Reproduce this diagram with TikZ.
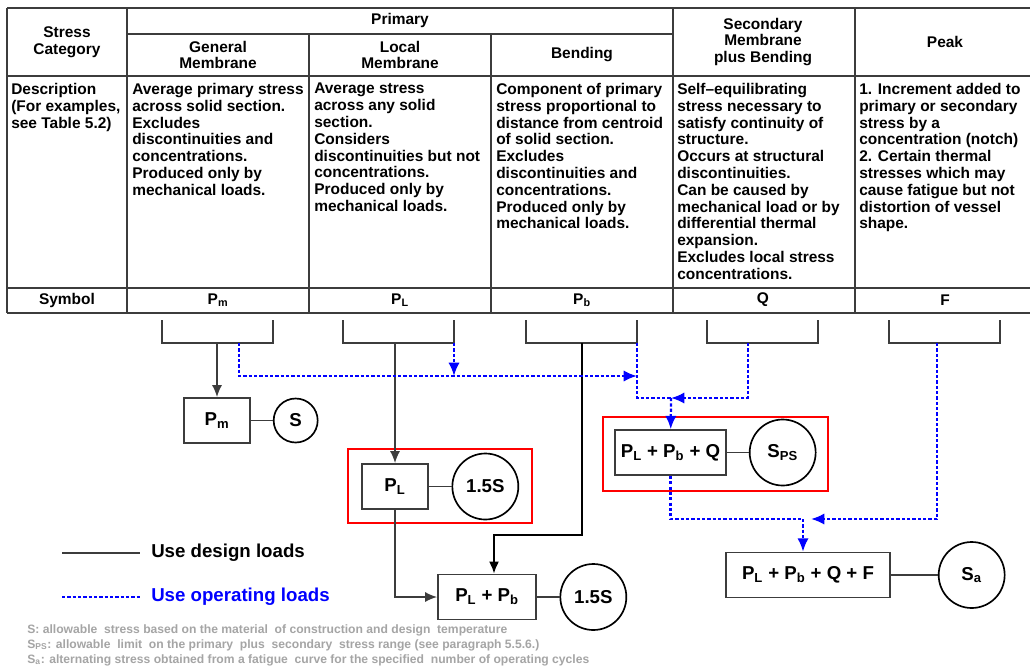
\documentclass[tikz,border=0pt]{standalone}
\usepackage{fontspec}
\setmainfont{Liberation Sans}
\usetikzlibrary{arrows.meta,positioning}

\definecolor{opblue}{RGB}{0,0,255}
\definecolor{gridgray}{RGB}{60,60,60}
\definecolor{notegray}{RGB}{165,165,165}

\begin{document}
\begin{tikzpicture}[x=0.75pt,y=-0.75pt,
  grid/.style={draw=gridgray, line width=1.25pt},
  tabtext/.style={font=\fontsize{11.6}{12.6}\selectfont\bfseries, inner sep=0pt},
  desc/.style={tabtext, anchor=north west, align=left},
  head/.style={tabtext, align=center},
  loadbox/.style={draw=gridgray, line width=1.25pt, minimum width=#1, minimum height=33.75pt, inner sep=0pt, font=\fontsize{14}{16}\selectfont\bfseries},
  limit/.style={circle, draw=black, line width=1.25pt, minimum size=#1, inner sep=0pt, font=\fontsize{14}{16}\selectfont\bfseries},
  design/.style={draw=gridgray, line width=1.25pt, -{Latex[length=9pt,width=7.5pt]}},
  operating/.style={draw=opblue, line width=1.7pt, dash pattern=on 2.4pt off 1.6pt, -{Latex[length=10pt,width=8.5pt]}},
  check/.style={draw=red, line width=1.6pt},
  legend/.style={anchor=west, inner xsep=8.25pt, font=\fontsize{14}{16}\selectfont\bfseries},
]
\path[use as bounding box, fill=white] (0,0) rectangle (1030,671);

% table
\draw[grid, line width=1.7pt] (7,8) -- (1030,8);
\draw[grid] (127,34) -- (673,34);
\draw[grid] (7,76) -- (1030,76);
\draw[grid] (7,288) -- (1030,288);
\draw[grid, line width=1.7pt] (7,313) -- (1030,313);
\foreach \x in {7,127,673,855} \draw[grid] (\x,8) -- (\x,313);
\foreach \x in {309,491} \draw[grid] (\x,34) -- (\x,313);

\node[head] (cat) at (67,42) {Stress\\Category};
\node[head] (prim) at (400,21) {Primary};
\node[head] (genm) at (218,55) {General\\Membrane};
\node[head] (locm) at (400,55) {Local\\Membrane};
\node[head] (bend) at (582,55) {Bending};
\node[head] (secm) at (763,42) {Secondary\\Membrane\\plus Bending};
\node[head] (peak) at (945,42) {Peak};

\node[desc] (dcat) at (11,83) {Description\\(For examples,\\see Table 5.2)};
\node[desc] (dgenm) at (132,83) {Average primary stress\\across solid section.\\Excludes\\discontinuities and\\concentrations.\\Produced only by\\mechanical loads.};
\node[desc] (dlocm) at (314,83) {Average stress\\across any solid\\section.\\Considers\\discontinuities but not\\concentrations.\\Produced only by\\mechanical loads.};
\node[desc] (dbend) at (496,83) {Component of primary\\stress proportional to\\distance from centroid\\of solid section.\\Excludes\\discontinuities and\\concentrations.\\Produced only by\\mechanical loads.};
\node[desc] (dsecm) at (677,83) {Self--equilibrating\\stress necessary to\\satisfy continuity of\\structure.\\Occurs at structural\\discontinuities.\\Can be caused by\\mechanical load or by\\differential thermal\\expansion.\\Excludes local stress\\concentrations.};
\node[desc] (dpeak) at (859,83) {1. Increment added to\\primary or secondary\\stress by a\\concentration (notch)\\2. Certain thermal\\stresses which may\\cause fatigue but not\\distortion of vessel\\shape.};

\node[tabtext] (sym) at (67,300) {Symbol};
\node[tabtext] (sgenm) at (218,300) {P\textsubscript{m}};
\node[tabtext] (slocm) at (400,300) {P\textsubscript{L}};
\node[tabtext] (sbend) at (582,300) {P\textsubscript{b}};
\node[tabtext] (ssecm) at (763,300) {Q};
\node[tabtext] (speak) at (945,300) {F};

% brackets under the symbols
\foreach \x in {162,343,526,707,889}
  \draw[grid] (\x,320) |- (\x+111,343) -- (\x+111,320);

\coordinate (genmD) at (217,343);
\coordinate (genmO) at (239,343);
\coordinate (locmD) at (395,343);
\coordinate (locmO) at (454,343);
\coordinate (bendD) at (582,343);
\coordinate (bendO) at (637,343);
\coordinate (secmO) at (748,343);
\coordinate (peakO) at (937,343);

% check boxes
\node[loadbox=49.5pt] (pm) at (217,420.5) {P\textsubscript{m}};
\node[limit=33pt, right=16.5pt of pm] (s) {S};
\node[loadbox=49.5pt] (pl) at (395,486.5) {P\textsubscript{L}};
\node[limit=49.5pt, right=17pt of pl] (pls) {1.5S};
\node[loadbox=73.5pt] (plpb) at (487,597) {P\textsubscript{L} + P\textsubscript{b}};
\node[limit=49.5pt, right=17pt of plpb] (plpbs) {1.5S};
\node[loadbox=83.25pt] (sps) at (670.5,452.5) {P\textsubscript{L} + P\textsubscript{b} + Q};
\node[limit=49.5pt, right=16.5pt of sps] (spss) {S\textsubscript{PS}};
\node[loadbox=123pt] (fin) at (808,575) {P\textsubscript{L} + P\textsubscript{b} + Q + F};
\node[limit=49.5pt, right=35.25pt of fin] (sa) {S\textsubscript{a}};

\draw[grid] (pm) -- (s);
\draw[grid] (pl) -- (pls);
\draw[grid] (plpb) -- (plpbs);
\draw[grid] (sps) -- (spss);
\draw[grid] (fin) -- (sa);

\draw[check] (348,449) rectangle (532,523);
\draw[check] (603,417) rectangle (828,491);

% design loads
\draw[design] (genmD) -- (pm);
\draw[design] (locmD) -- (pl);
\draw[design] (pl) |- (plpb);
\coordinate (bendT) at (494,535);
\draw[design, draw=black, line width=1.5pt] (bendD) |- (bendT) -- (bendT |- plpb.north);

% operating loads
\coordinate (opJ) at (637,376);
\coordinate (spsJ) at (671,398);
\coordinate (finJ) at (803,519);
\coordinate (finT) at (811,519);
\draw[operating] (genmO) |- (opJ);
\draw[operating] (locmO) -- (locmO |- opJ);
\draw[operating, -] (bendO) |- (spsJ);
\draw[operating] (secmO) |- (spsJ);
\draw[operating] (spsJ) -- (sps);
\draw[operating, -] (sps) |- (finJ);
\draw[operating] (peakO) |- (finT);
\draw[operating] (finJ) -- (finJ |- fin.north);

% legend
\node[legend] (usedesign) at (140,553) {Use design loads};
\node[legend, text=opblue] (useop) at (140,597) {Use operating loads};
\coordinate (designL) at (62,553);
\coordinate (opL) at (62,597);
\draw[grid] (designL) -- (usedesign);
\draw[operating, -] (opL) -- (useop);

\node[anchor=north west, align=left, inner sep=0pt, text=notegray, font=\fontsize{9.1}{11.25}\selectfont\bfseries] (notes) at (27,624)
  {S: allowable\ \ stress based on the material\ \ of construction and design\ \ temperature\\
   S\textsubscript{PS}: allowable\ \ limit\ \ on the primary\ \ plus\ \ secondary\ \ stress range (see paragraph 5.5.6.)\\
   S\textsubscript{a}: alternating stress obtained from a fatigue\ \ curve for the specified\ \ number of operating cycles};
\end{tikzpicture}
\end{document}
